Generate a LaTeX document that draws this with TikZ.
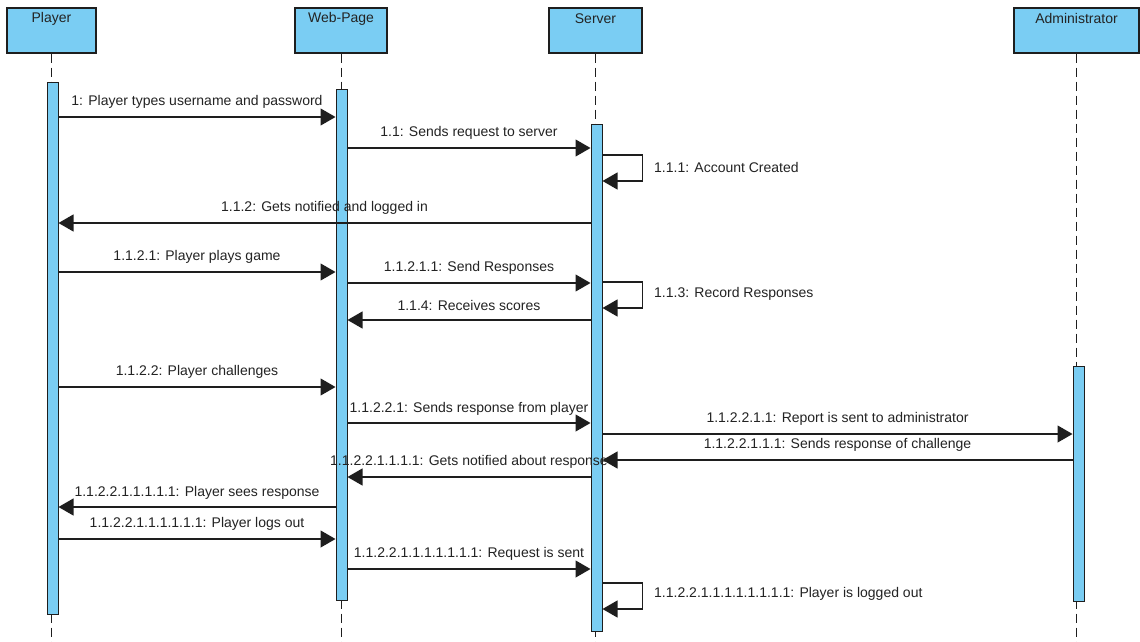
\documentclass[tikz,border=0pt]{standalone}
\usepackage{fontspec}
\setmainfont{Liberation Sans}
\usetikzlibrary{arrows.meta}
\definecolor{lifeblue}{RGB}{122,205,243}
\definecolor{ink}{RGB}{35,35,35}
\definecolor{edge}{RGB}{30,30,30}
\tikzset{
  actorbox/.style={draw=edge, line width=1.2pt, fill=lifeblue, rectangle, inner sep=0pt},
  actortext/.style={text=ink, font=\fontsize{14}{16}\selectfont, inner sep=0pt},
  bar/.style={draw=edge, line width=1pt, fill=lifeblue, rectangle, inner sep=0pt, minimum width=11pt},
  life/.style={draw=edge, line width=1pt, dash pattern=on 9pt off 5pt},
  msg/.style={draw=edge, line width=1.1pt, -{Triangle[length=15pt,width=17pt]}},
  lbl/.style={text=ink, font=\fontsize{14}{16}\selectfont, inner sep=0pt},
}
\begin{document}
\begin{tikzpicture}[x=1pt,y=-1pt]
\useasboundingbox (0,0) rectangle (1140,642);
\fill[white] (0,0) rectangle (1140,642);

% participants
\node[actorbox, minimum width=89pt, minimum height=45pt] (player) at (51.5,30.5) {};
\node[actorbox, minimum width=92pt, minimum height=45pt] (web) at (341,30.5) {};
\node[actorbox, minimum width=93pt, minimum height=45pt] (server) at (595.5,30.5) {};
\node[actorbox, minimum width=125pt, minimum height=45pt] (admin) at (1076.5,30.5) {};
\node[actortext] (playerT) at ([yshift=-11pt]player.north) {Player};
\node[actortext] (webT) at ([yshift=-11pt]web.north) {Web-Page};
\node[actortext] (serverT) at ([yshift=-11pt]server.north) {Server};
\node[actortext] (adminT) at ([yshift=-11pt]admin.north) {Administrator};

% lifelines
\draw[life] (player.south) -- (player.south |- 0,642);
\draw[life] (web.south) -- (web.south |- 0,642);
\draw[life] (server.south) -- (server.south |- 0,642);
\draw[life] (admin.south) -- (admin.south |- 0,642);

% activation bars
\node[bar, minimum height=532pt] (pbar) at (52.5,348) {};
\node[bar, minimum height=511pt] (wbar) at (341.5,344.5) {};
\node[bar, minimum height=507pt] (sbar) at (596.5,377.5) {};
\node[bar, minimum height=235pt] (abar) at (1078.5,483.5) {};

% messages
\draw[msg] (pbar.east |- 0,117) -- node[lbl, midway, yshift=15pt] (m1) {1: Player types username and password} (wbar.west |- 0,117);
\draw[msg] (wbar.east |- 0,148) -- node[lbl, midway, yshift=15pt] (m2) {1.1: Sends request to server} (sbar.west |- 0,148);
\draw[msg] (sbar.east |- 0,155) -- ++(40,0) |- (sbar.east |- 0,181);
\node[lbl, anchor=west] (m3) at (654,167) {1.1.1: Account Created};
\draw[msg] (sbar.west |- 0,223) -- node[lbl, midway, yshift=15pt] (m4) {1.1.2: Gets notified and logged in} (pbar.east |- 0,223);
\draw[msg] (pbar.east |- 0,272) -- node[lbl, midway, yshift=15pt] (m5) {1.1.2.1: Player plays game} (wbar.west |- 0,272);
\draw[msg] (wbar.east |- 0,283) -- node[lbl, midway, yshift=15pt] (m6) {1.1.2.1.1: Send Responses} (sbar.west |- 0,283);
\draw[msg] (sbar.east |- 0,282) -- ++(40,0) |- (sbar.east |- 0,308);
\node[lbl, anchor=west] (m7) at (654,294) {1.1.3: Record Responses};
\draw[msg] (sbar.west |- 0,320) -- node[lbl, midway, yshift=15pt] (m8) {1.1.4: Receives scores} (wbar.east |- 0,320);
\draw[msg] (pbar.east |- 0,387) -- node[lbl, midway, yshift=15pt] (m9) {1.1.2.2: Player challenges} (wbar.west |- 0,387);
\draw[msg] (wbar.east |- 0,423) -- node[lbl, midway, yshift=14pt] (m10) {1.1.2.2.1: Sends response from player} (sbar.west |- 0,423);
\draw[msg] (sbar.east |- 0,434) -- node[lbl, midway, yshift=15pt] (m11) {1.1.2.2.1.1: Report is sent to administrator} (abar.west |- 0,434);
\draw[msg] (abar.west |- 0,460) -- node[lbl, midway, yshift=15pt] (m12) {1.1.2.2.1.1.1: Sends response of challenge} (sbar.east |- 0,460);
\draw[msg] (sbar.west |- 0,477) -- node[lbl, midway, yshift=15pt] (m13) {1.1.2.2.1.1.1.1: Gets notified about response} (wbar.east |- 0,477);
\draw[msg] (wbar.west |- 0,507) -- node[lbl, midway, yshift=14pt] (m14) {1.1.2.2.1.1.1.1.1: Player sees response} (pbar.east |- 0,507);
\draw[msg] (pbar.east |- 0,539) -- node[lbl, midway, yshift=15pt] (m15) {1.1.2.2.1.1.1.1.1.1: Player logs out} (wbar.west |- 0,539);
\draw[msg] (wbar.east |- 0,569) -- node[lbl, midway, yshift=15pt] (m16) {1.1.2.2.1.1.1.1.1.1.1: Request is sent} (sbar.west |- 0,569);
\draw[msg] (sbar.east |- 0,583) -- ++(40,0) |- (sbar.east |- 0,609);
\node[lbl, anchor=west] (m17) at (654,594) {1.1.2.2.1.1.1.1.1.1.1.1: Player is logged out};
\end{tikzpicture}
\end{document}
